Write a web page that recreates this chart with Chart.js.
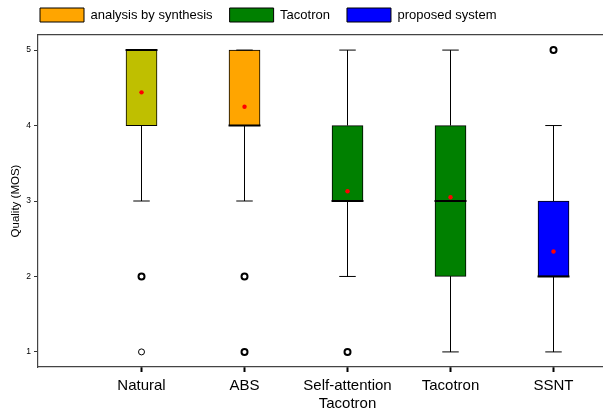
<!DOCTYPE html>
<html>
<head>
<meta charset="utf-8">
<script src="https://cdn.jsdelivr.net/npm/chart.js@4.4.0/dist/chart.umd.min.js"></script>
<style>
  html, body { margin: 0; padding: 0; background: #fff; }
</style>
</head>
<body>
<canvas id="mosChart" width="603" height="410"></canvas>
<script>
// box plot stats per system
const systems = ["Natural", "ABS", ["Self-attention", "Tacotron"], "Tacotron", "SSNT"];
const q1 = [4, 4, 3, 2, 2];
const q3 = [5, 5, 4, 4, 3];
const medians = [5, 4, 3, 3, 2];
const whiskLow = [3, 3, 2, 1, 1];
const whiskHigh = [5, 5, 5, 5, 4];
const means = [4.44, 4.25, 3.13, 3.05, 2.33];

// outliers: which system, value, and whether many ratings overlap there
const outlierSys = [0, 0, 1, 1, 2, 4];
const outlierVals = [2, 1, 2, 1, 1, 5];
const outlierMany = [true, false, true, true, true, true];

// legend groups -> which boxes they cover
const groupNames = ["Natural", "analysis by synthesis", "Tacotron", "proposed system"];
const groupMembers = [[0], [1], [2, 3], [4]];
const groupColors = ["#bfbf00", "#ffa500", "#008000", "#0000ff"];

const CAP = 0.08;
const HALF = 0.155;

Chart.defaults.font.family = "'Liberation Sans', Arial, sans-serif";
Chart.defaults.color = "#000";

const boxSets = groupNames.map((name, g) => ({
  type: "bar",
  label: name,
  data: groupMembers[g].map((i) => ({ x: i + 1, y: [q1[i], q3[i]] })),
  backgroundColor: groupColors[g],
  borderColor: "#000",
  borderWidth: 1,
  borderSkipped: false,
  barThickness: 31,
  grouped: false,
  order: 5,
}));

// whisker lines + caps, broken with null gaps
const whiskerPts = [];
const medianPts = [];
systems.forEach((s, i) => {
  const x = i + 1;
  whiskerPts.push(
    { x: x, y: q1[i] }, { x: x, y: whiskLow[i] }, { x: x, y: null },
    { x: x, y: q3[i] }, { x: x, y: whiskHigh[i] }, { x: x, y: null },
    { x: x - CAP, y: whiskLow[i] }, { x: x + CAP, y: whiskLow[i] }, { x: x, y: null },
    { x: x - CAP, y: whiskHigh[i] }, { x: x + CAP, y: whiskHigh[i] }, { x: x, y: null }
  );
  medianPts.push({ x: x - HALF, y: medians[i] }, { x: x + HALF, y: medians[i] }, { x: x, y: null });
});

const legendShift = {
  id: "legendShift",
  afterLayout(chart) {
    chart.legend.left += 23;
    chart.legend.top -= 9;
  },
};

function noPad(scale) {
  scale.paddingLeft = 0;
  scale.paddingRight = 0;
  scale.paddingTop = 0;
  scale.paddingBottom = 0;
}

// axis runs past the right edge of the picture
const X_MIN = -0.005;
const X_MAX = 5.4805;

new Chart(document.getElementById("mosChart"), {
  type: "scatter",
  data: {
    datasets: [
      ...boxSets,
      {
        type: "line",
        label: "whiskers",
        data: whiskerPts,
        borderColor: "#000",
        borderWidth: 1,
        pointRadius: 0,
        spanGaps: false,
        fill: false,
        order: 4,
      },
      {
        type: "line",
        label: "medians",
        data: medianPts,
        borderColor: "#000",
        borderWidth: 2,
        pointRadius: 0,
        spanGaps: false,
        fill: false,
        order: 3,
      },
      {
        type: "scatter",
        label: "means",
        data: means.map((m, i) => ({ x: i + 1, y: m })),
        pointRadius: 2.2,
        pointBackgroundColor: "#ff0000",
        pointBorderWidth: 0,
        order: 2,
      },
      {
        type: "scatter",
        label: "outliers",
        data: outlierVals.map((v, k) => ({ x: outlierSys[k] + 1, y: v })),
        pointRadius: 3,
        pointBackgroundColor: "#fff",
        pointBorderColor: "#000",
        pointBorderWidth: (ctx) => (outlierMany[ctx.dataIndex] ? 2 : 1),
        order: 1,
      },
    ],
  },
  options: {
    responsive: false,
    animation: false,
    events: [],
    layout: { padding: 0, autoPadding: false },
    plugins: {
      tooltip: { enabled: false },
      legend: {
        position: "top",
        align: "start",
        maxHeight: 35,
        labels: {
          boxWidth: 44,
          boxHeight: 14,
          padding: 17,
          font: { size: 13 },
          filter: (item) => item.datasetIndex >= 1 && item.datasetIndex <= 3,
        },
      },
    },
    scales: {
      x: {
        type: "linear",
        min: X_MIN,
        max: X_MAX,
        offset: false,
        afterBuildTicks: (scale) => {
          scale.ticks = systems.map((s, i) => ({ value: i + 1 }));
        },
        afterFit: (scale) => {
          scale.height = 43;
          noPad(scale);
        },
        ticks: {
          autoSkip: false,
          maxRotation: 0,
          padding: 5,
          font: { size: 15, lineHeight: 1.2 },
          callback: (value, index) => systems[index],
        },
        grid: {
          display: true, offset: false, drawOnChartArea: false, drawTicks: true,
          tickLength: 5, color: "#000", tickColor: "#000", tickWidth: 2,
        },
        border: { display: true, color: "#444", width: 1.2 },
      },
      xTop: {
        type: "linear",
        position: "top",
        min: X_MIN,
        max: X_MAX,
        offset: false,
        display: true,
        afterFit: (scale) => {
          scale.height = 0;
          noPad(scale);
        },
        ticks: { display: false },
        grid: { display: false, offset: false },
        border: { display: true, color: "#444", width: 1.2 },
      },
      y: {
        type: "linear",
        min: 0.8,
        max: 5.2,
        afterBuildTicks: (scale) => {
          scale.ticks = [1, 2, 3, 4, 5].map((v) => ({ value: v }));
        },
        afterFit: (scale) => {
          scale.width = 38;
          noPad(scale);
        },
        ticks: { padding: 3, font: { size: 8.5 } },
        grid: { display: true, drawOnChartArea: false, drawTicks: true, tickLength: 4, color: "#333" },
        border: { display: true, color: "#444", width: 1.2 },
        title: {
          display: true,
          text: "Quality (MOS)",
          font: { size: 11.5 },
          padding: { top: 9, bottom: 0 },
        },
      },
    },
  },
  plugins: [legendShift],
});
</script>
</body>
</html>
